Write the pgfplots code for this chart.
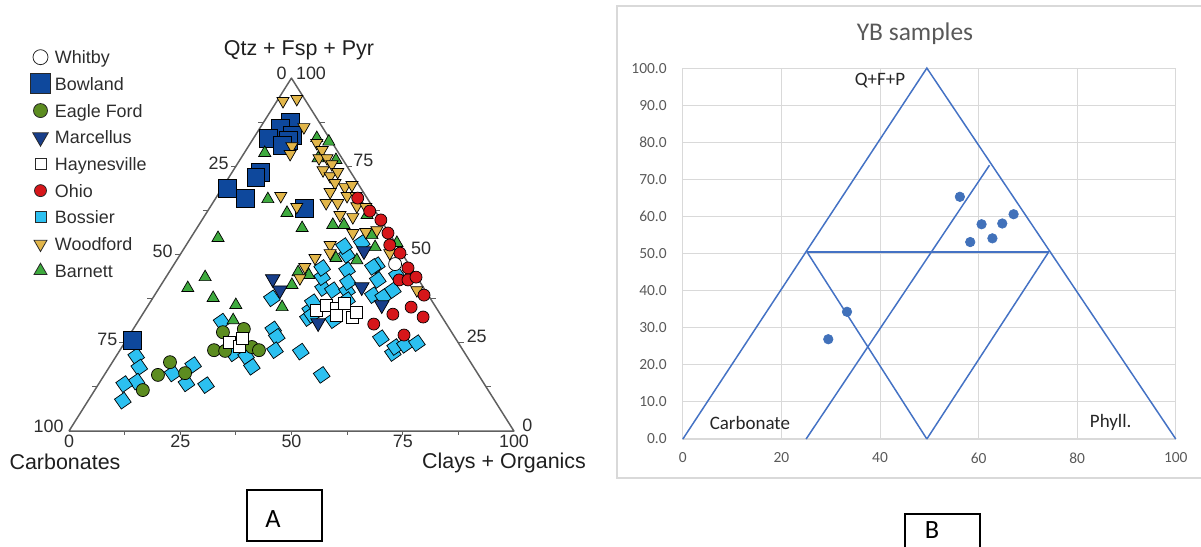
\documentclass[border=0pt]{standalone}
\usepackage{pgfplots}
\pgfplotsset{compat=1.18}
\usepackage{fontspec}
\setmainfont{Liberation Sans}
\newfontfamily\carlito{Carlito}

\definecolor{bowland}{RGB}{14,72,156}
\definecolor{marcellus}{RGB}{24,62,138}
\definecolor{eagleford}{RGB}{92,140,32}
\definecolor{ohio}{RGB}{214,22,26}
\definecolor{bossier}{RGB}{44,192,240}
\definecolor{woodford}{RGB}{226,182,74}
\definecolor{barnett}{RGB}{62,170,62}
\definecolor{edge}{RGB}{40,40,40}
\definecolor{triframe}{RGB}{96,96,96}
\definecolor{labelgray}{RGB}{45,45,45}
\definecolor{excelblue}{RGB}{68,114,196}
\definecolor{exceldot}{RGB}{65,113,186}
\definecolor{excelgrid}{RGB}{217,217,217}
\definecolor{excelgray}{RGB}{89,89,89}

\pgfplotsset{
  mk/.style={only marks, mark options={draw=edge, line width=0.45pt}},
}

\begin{document}
\begin{tikzpicture}[x=0.02cm,y=0.02cm]
\path[use as bounding box] (0,0) rectangle (1201,547);

% ---------------- ternary diagram (panel A) ----------------
\begin{axis}[
  at={(1.38cm,2.32cm)}, anchor=south west,
  width=8.9cm, height=7.06cm, scale only axis,
  xmin=0, xmax=100, ymin=0, ymax=100,
  axis lines=none, clip=false,
  legend cell align=left,
  legend image code/.code={\draw[#1] plot coordinates {(0.2cm,0cm)};},
  legend style={at={(-0.0865,1.089)}, anchor=north west, draw=none, fill=none,
    inner sep=0pt, outer sep=0pt, row sep=0.114cm, column sep=0.09cm,
    font=\fontsize{10.2}{12}\selectfont, text=labelgray,
    nodes={inner sep=0pt, text height=0.34cm, text depth=0.08cm}},
]
% legend entries
\addlegendimage{only marks, mark=*, mark size=0.15cm, mark options={fill=white, draw=edge, line width=0.45pt}}
\addlegendentry{Whitby}
\addlegendimage{only marks, mark=square*, mark size=0.2cm, mark options={fill=bowland, draw=edge, line width=0.45pt}}
\addlegendentry{Bowland}
\addlegendimage{only marks, mark=*, mark size=0.14cm, mark options={fill=eagleford, draw=edge, line width=0.45pt}}
\addlegendentry{Eagle Ford}
\addlegendimage{only marks, mark=triangle*, mark size=0.18cm, mark options={fill=marcellus, draw=edge, line width=0.45pt, rotate=180}}
\addlegendentry{Marcellus}
\addlegendimage{only marks, mark=square*, mark size=0.11cm, mark options={fill=white, draw=edge, line width=0.45pt}}
\addlegendentry{Haynesville}
\addlegendimage{only marks, mark=*, mark size=0.12cm, mark options={fill=ohio, draw=edge, line width=0.45pt}}
\addlegendentry{Ohio}
\addlegendimage{only marks, mark=square*, mark size=0.11cm, mark options={fill=bossier, draw=edge, line width=0.45pt}}
\addlegendentry{Bossier}
\addlegendimage{only marks, mark=triangle*, mark size=0.15cm, mark options={fill=woodford, draw=edge, line width=0.45pt, rotate=180}}
\addlegendentry{Woodford}
\addlegendimage{only marks, mark=triangle*, mark size=0.15cm, mark options={fill=barnett, draw=edge, line width=0.45pt}}
\addlegendentry{Barnett}

% triangle frame
\addplot[forget plot, draw=triframe, line width=0.85pt, line join=round, mark=none]
  coordinates {(0,0) (50,100) (100,0) (0,0)};

% samples (x: position along base, y: Qtz + Fsp + Pyr)
\addplot[forget plot, mk, mark=square*, mark size=0.12cm, mark options={fill=bossier, rotate=35}] coordinates {
 (15.1,21.2) (15.8,18.0) (15.2,14.0) (12.4,13.3) (12.1,8.6) (23.3,16.3) (26.4,13.5) (27.9,18.7)
 (30.8,13.0) (34.3,31.0) (36.9,22.0) (39.8,21.2) (41.1,18.2) (45.9,28.8) (46.7,26.7) (46.3,22.9)
 (52.1,22.5) (56.8,15.9) (45.6,37.6) (54.2,34.3) (53.7,32.0) (59.4,31.4) (57.1,40.5) (59.3,39.9)
 (62.5,39.7) (56.9,43.6) (56.9,46.2) (62.5,45.6) (62.5,49.9) (61.8,52.4) (65.8,53.3) (69.2,47.0)
 (69.4,42.8) (68.3,38.5) (70.6,38.0) (72.8,39.9) (73.7,44.2) (68.3,46.5) (62.7,42.2) (62.5,37.1)
 (54.8,36.5) (54.6,32.9) (70.1,26.3) (72.8,22.1) (73.3,23.8) (75.5,24.4) (78.2,24.9)};
\addplot[forget plot, mk, mark=square*, mark size=0.18cm, mark options={fill=bowland}] coordinates {
 (49.7,87.5) (47.4,85.8) (50.3,83.9) (44.7,83.0) (49.2,82.4) (47.9,81.0) (42.9,73.4) (42.0,72.0)
 (35.5,68.8) (39.6,66.0) (53.0,63.2) (14.2,25.8)};
\addplot[forget plot, mk, mark=triangle*, mark size=0.14cm, mark options={fill=barnett}] coordinates {
 (44.0,78.8) (55.7,83.0) (58.4,82.0) (56.0,77.3) (60.0,76.8) (44.7,65.7) (49.0,61.8) (52.4,57.5)
 (59.3,58.4) (61.8,58.4) (67.0,61.2) (68.1,55.5) (68.8,52.1) (73.7,53.3) (33.5,54.7) (30.6,43.6)
 (26.7,40.5) (32.4,37.7) (37.5,35.7) (36.9,31.4) (47.9,35.1) (51.5,45.0) (53.9,44.2) (50.1,41.4)
 (60.0,49.0) (64.7,48.4)};
\addplot[forget plot, mk, mark=triangle*, mark size=0.14cm, mark options={fill=woodford, rotate=180}] coordinates {
 (48.1,93.5) (51.2,94.1) (52.8,86.1) (50.1,80.7) (49.7,78.5) (55.7,81.6) (56.9,79.6) (56.2,77.3)
 (58.0,77.3) (59.1,75.6) (57.1,73.9) (58.7,72.2) (60.4,73.4) (59.8,70.3) (62.0,69.1) (63.6,69.7)
 (58.7,67.7) (62.5,66.6) (64.5,66.6) (47.6,66.6) (51.2,63.5) (57.8,64.6) (60.4,64.6) (64.7,63.7)
 (66.7,63.5) (60.9,61.2) (63.8,60.6) (66.7,56.4) (63.8,56.1) (69.2,56.9) (58.7,52.7) (58.7,50.4)
 (55.3,49.0) (53.0,46.5) (51.9,43.3) (72.1,50.4) (78.2,39.9)};
\addplot[forget plot, mk, mark=*, mark size=0.13cm, mark options={fill=eagleford}] coordinates {
 (16.6,11.6) (20.0,15.9) (22.7,19.5) (26.1,16.4) (32.6,22.9) (35.1,22.7) (34.6,28.0) (39.3,28.9)
 (41.1,23.8) (42.7,22.9)};
\addplot[forget plot, mk, mark=square*, mark size=0.12cm, mark options={fill=white}] coordinates {
 (36.0,25.2) (38.4,24.1) (38.9,26.3) (55.7,34.3) (57.8,35.7) (60.2,34.8) (62.0,36.3) (63.6,32.3)
 (64.5,33.7) (60.2,32.9)};
\addplot[forget plot, mk, mark=triangle*, mark size=0.17cm, mark options={fill=marcellus, rotate=180}] coordinates {
 (45.8,43.1) (47.4,39.9) (66.3,51.0) (65.8,40.8) (70.3,35.7) (56.0,30.6)};
\addplot[forget plot, mk, mark=*, mark size=0.12cm, mark options={fill=ohio}] coordinates {
 (64.9,66.0) (67.6,62.3) (70.1,59.8) (71.7,56.1) (72.1,52.7) (74.4,50.4) (76.2,46.2) (74.2,42.8)
 (76.2,42.8) (78.0,43.6) (79.8,38.5) (76.9,35.1) (72.8,33.1) (79.6,32.3) (68.5,30.3) (75.3,27.2)};
\addplot[forget plot, mk, mark=*, mark size=0.13cm, mark options={fill=white}] coordinates {(73.3,47.3)};

% edge ticks every 12.5 %
\draw[triframe, line width=0.6pt]
  (axis cs:12.5,0) -- ++(0pt,-2.3pt) (axis cs:25,0) -- ++(0pt,-2.3pt)
  (axis cs:37.5,0) -- ++(0pt,-2.3pt) (axis cs:50,0) -- ++(0pt,-2.3pt)
  (axis cs:62.5,0) -- ++(0pt,-2.3pt) (axis cs:75,0) -- ++(0pt,-2.3pt)
  (axis cs:87.5,0) -- ++(0pt,-2.3pt)
  (axis cs:6.25,12.5) -- ++(-3pt,0pt) (axis cs:12.5,25) -- ++(-3pt,0pt)
  (axis cs:18.75,37.5) -- ++(-3pt,0pt) (axis cs:25,50) -- ++(-3pt,0pt)
  (axis cs:31.25,62.5) -- ++(-3pt,0pt) (axis cs:37.5,75) -- ++(-3pt,0pt)
  (axis cs:43.75,87.5) -- ++(-3pt,0pt)
  (axis cs:93.75,12.5) -- ++(3pt,0pt) (axis cs:87.5,25) -- ++(3pt,0pt)
  (axis cs:81.25,37.5) -- ++(3pt,0pt) (axis cs:75,50) -- ++(3pt,0pt)
  (axis cs:68.75,62.5) -- ++(3pt,0pt) (axis cs:62.5,75) -- ++(3pt,0pt)
  (axis cs:56.25,87.5) -- ++(3pt,0pt);
\end{axis}

% ternary labels
\begin{scope}[every node/.style={inner sep=0pt, text=labelgray, font=\fontsize{10.2}{12}\selectfont}]
  \node[anchor=east] at (229,384) {25};
  \node[anchor=east] at (173,295.5) {50};
  \node[anchor=east] at (117.6,207.3) {75};
  \node[anchor=east] at (64,121) {100};
  \node at (281.7,474) {0};
  \node at (311,474) {100};
  \node[anchor=west] at (353,387) {75};
  \node[anchor=west] at (410.8,298.5) {50};
  \node[anchor=west] at (466.4,210.3) {25};
  \node[anchor=west] at (522,122) {0};
  \node[anchor=north] at (69,112.5) {0};
  \node[anchor=north] at (180.3,112.5) {25};
  \node[anchor=north] at (291.5,112.5) {50};
  \node[anchor=north] at (402.8,112.5) {75};
  \node[anchor=north] at (514,112.5) {100};
\end{scope}
\begin{scope}[every node/.style={inner sep=0pt, text=black!88, font=\fontsize{12.2}{14}\selectfont}]
  \node at (65,85) {Carbonates};
  \node at (504,84) {Clays + Organics};
  \node at (299,497) {Qtz + Fsp + Pyr};
\end{scope}

% ---------------- Excel-style chart (panel B) ----------------
\draw[excelgrid, line width=0.7pt] (1201,69) -- (617,69) -- (617,541) -- (1201,541);
\node[inner sep=0pt, text=excelgray, font=\carlito\fontsize{14.5}{16}\selectfont] at (915,513) {YB samples};

\begin{axis}[
  at={(13.66cm,2.16cm)}, anchor=south west,
  width=9.86cm, height=7.42cm, scale only axis,
  xmin=0, xmax=100, ymin=0, ymax=100,
  xtick={0,20,...,100}, ytick={0,10,...,100},
  grid=major, major grid style={draw=excelgrid, line width=0.6pt},
  axis line style={draw=excelgrid, line width=0.6pt},
  major tick length=0pt,
  tick label style={font=\carlito\fontsize{8.8}{10}\selectfont, text=excelgray},
  /pgf/number format/assume math mode=true,
  yticklabel style={/pgf/number format/fixed, /pgf/number format/fixed zerofill,
    /pgf/number format/precision=1, xshift=-0.2cm},
  xticklabel style={yshift=-0.15cm},
  clip=false,
]
\addplot[excelblue, line width=0.85pt, mark=none] coordinates {(0,0) (49.5,100) (100,0)};
\addplot[excelblue, line width=0.85pt, mark=none] coordinates {(25.2,50.4) (74.2,50.4)};
\addplot[excelblue, line width=0.85pt, mark=none] coordinates {(25.2,50.4) (49.5,0)};
\addplot[excelblue, line width=0.85pt, mark=none] coordinates {(25,0) (62.2,73.8)};
\addplot[excelblue, line width=0.85pt, mark=none] coordinates {(49.5,0) (74.2,50.4)};
\addplot[only marks, mark=*, mark size=2.7pt, mark options={draw=exceldot, fill=exceldot}] coordinates {
 (56.2,65.3) (60.6,57.9) (64.8,58.1) (67.1,60.6) (58.3,53.1) (62.8,54.1) (33.3,34.3) (29.5,26.9)};
\node[inner sep=0pt, font=\carlito\fontsize{10.8}{12}\selectfont, text=black!85] at (axis cs:40,96.6) {Q+F+P};
\node[inner sep=0pt, font=\carlito\fontsize{10.8}{12}\selectfont, text=black!85] at (axis cs:13.6,4.2) {Carbonate};
\node[inner sep=0pt, font=\carlito\fontsize{10.8}{12}\selectfont, text=black!85] at (axis cs:86.8,4.4) {Phyll.};
\end{axis}

% panel captions
\draw[black, line width=0.6pt] (247,6) rectangle (322,57);
\node[inner sep=0pt, font=\carlito\fontsize{15}{17}\selectfont] at (273,28) {A};
\draw[black, line width=0.6pt] (905,-2) -- (905,33) -- (980,33) -- (980,-2);
\node[inner sep=0pt, font=\carlito\fontsize{15}{17}\selectfont] at (932,17) {B};
\end{tikzpicture}
\end{document}
